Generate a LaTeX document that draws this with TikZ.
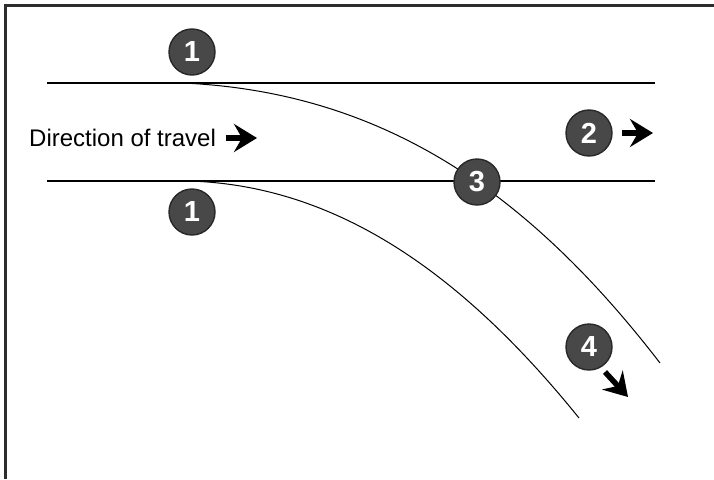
\documentclass[tikz,border=0pt]{standalone}
\usepackage{fontspec}
\setmainfont{Liberation Sans}
\usetikzlibrary{arrows.meta}
\definecolor{circfill}{RGB}{72,72,72}
\definecolor{circline}{RGB}{40,40,40}
\definecolor{framecol}{RGB}{45,45,45}
\tikzset{
  numc/.style={circle, fill=circfill, draw=circline, line width=1.4pt,
    minimum size=46pt, inner sep=0pt, text=white,
    font=\fontsize{29}{29}\selectfont\bfseries},
  roadline/.style={line width=1.2pt, black},
  curveline/.style={line width=1pt, black},
  fatarrow/.style={line width=5.5pt, black,
    -{Stealth[length=23pt, width=28pt, inset=8pt]}},
  framel/.style={line width=2.5pt, framecol}
}
\begin{document}
\begin{tikzpicture}[x=1pt, y=-1pt]
\useasboundingbox (0,0) rectangle (714,479);
% frame
\coordinate (fbl) at (5.3,479);
\coordinate (ftl) at (5.3,5.3);
\coordinate (ftr) at (714,5.3);
\draw[framel] (fbl) -- (ftl) -- (ftr);
% road lines
\coordinate (tl) at (47,83);
\coordinate (tr) at (655,83);
\coordinate (bl) at (47,181);
\coordinate (br) at (655,181);
\draw[roadline] (tl) -- (tr);
\draw[roadline] (bl) -- (br);
% curves
\coordinate (os) at (183,83);
\coordinate (oe) at (660,363);
\coordinate (is) at (188,181);
\coordinate (ie) at (579,418);
\draw[curveline] (os) .. controls (380,92) and (526,189) .. (oe);
\draw[curveline] (is) .. controls (340,185) and (466,278) .. (ie);
% numbered circles
\node[numc] (n1a) at (192,52) {1};
\node[numc] (n1b) at (192,212) {1};
\node[numc] (n3) at (477,182) {3};
\node[numc] (n2) at (589,133) {2};
\node[numc] (n4) at (589,347) {4};
% text
\node[anchor=base west, inner sep=0pt, font=\fontsize{24}{24}\selectfont] (dir) at (29,146) {Direction of travel};
% arrows
\coordinate (a1s) at (226,138);
\coordinate (a1e) at (257,138);
\draw[fatarrow] (a1s) -- (a1e);
\coordinate (a2s) at (622,133);
\coordinate (a2e) at (653,133);
\draw[fatarrow] (a2s) -- (a2e);
\coordinate (a4s) at (605,372);
\coordinate (a4e) at (628,397);
\draw[fatarrow] (a4s) -- (a4e);
\end{tikzpicture}
\end{document}
